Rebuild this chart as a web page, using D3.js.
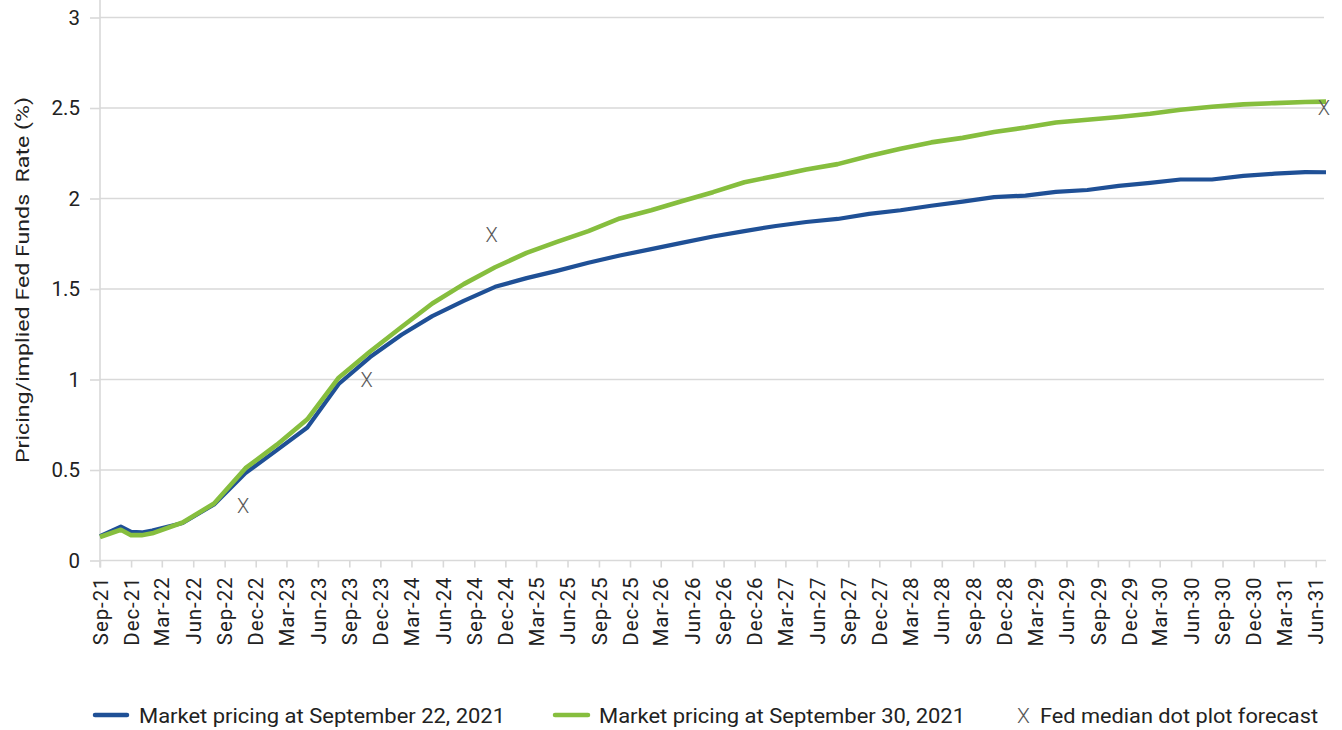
<!DOCTYPE html>
<html>
<head>
<meta charset="utf-8">
<script src="https://cdn.jsdelivr.net/npm/d3@7"></script>
<style>
  body { margin: 0; background: #fff; }
  svg { display: block; }
  text { font-family: Roboto, "Noto Sans", sans-serif; }
</style>
</head>
<body>
<svg id="chart" width="1342" height="730"></svg>
<script>
// ---- data ----
const dates = [
  "2021-09-01","2021-11-01","2021-12-01","2022-01-01","2022-02-01","2022-05-01","2022-08-01",
  "2022-11-01","2023-02-01","2023-05-01","2023-08-01","2023-11-01","2024-02-01","2024-05-01",
  "2024-08-01","2024-11-01","2025-02-01","2025-05-01","2025-08-01","2025-11-01","2026-02-01",
  "2026-05-01","2026-08-01","2026-11-01","2027-02-01","2027-05-01","2027-08-01","2027-11-01",
  "2028-02-01","2028-05-01","2028-08-01","2028-11-01","2029-02-01","2029-05-01","2029-08-01",
  "2029-11-01","2030-02-01","2030-05-01","2030-08-01","2030-11-01","2031-02-01","2031-05-01",
  "2031-07-01"
];
const pricingSep22 = [
  0.135,0.187,0.158,0.155,0.165,0.207,0.31,
  0.483,0.61,0.735,0.975,1.124,1.247,1.35,
  1.434,1.512,1.56,1.60,1.645,1.685,1.72,
  1.755,1.79,1.82,1.848,1.87,1.887,1.915,
  1.935,1.96,1.983,2.008,2.016,2.037,2.047,
  2.07,2.086,2.105,2.105,2.125,2.137,2.146,
  2.145
];
const pricingSep30 = [
  0.13,0.17,0.14,0.14,0.15,0.21,0.315,
  0.51,0.64,0.78,1.01,1.155,1.29,1.42,
  1.527,1.62,1.70,1.76,1.82,1.89,1.935,
  1.985,2.035,2.09,2.125,2.16,2.19,2.235,
  2.275,2.31,2.335,2.367,2.392,2.42,2.435,
  2.45,2.468,2.49,2.507,2.52,2.527,2.533,
  2.535
];
const dotDates = ["2022-10-25","2023-10-22","2024-10-22","2031-06-25"];
const dotValues = [0.3, 1.0, 1.8, 2.5];
const yTicks = [0, 0.5, 1, 1.5, 2, 2.5, 3];
const xDomain = ["2021-09-01", "2031-07-01"];
const seriesNames = ["Market pricing at September 22, 2021", "Market pricing at September 30, 2021"];
const dotName = "Fed median dot plot forecast";
const yTitle = "Pricing/implied Fed Funds  Rate (%)";

// ---- setup ----
const parse = d3.timeParse("%Y-%m-%d");
const fmt = d3.timeFormat("%b-%y");
const svg = d3.select("#chart");
const BLUE = "#1f5096", GREEN = "#86be3e", GRID = "#d9d9d9", TXT = "#222222", XCOL = "#595959";

const pLeft = 100, pRight = 1326, pTop = 17.5, pBottom = 560.5;
const x = d3.scaleTime().domain(xDomain.map(parse)).range([pLeft, pRight]);
const y = d3.scaleLinear().domain([0, 3]).range([pBottom, pTop]);

// gridlines
svg.append("g").selectAll("line").data(yTicks.filter(v => v > 0)).join("line")
  .attr("x1", pLeft).attr("x2", pRight - 2)
  .attr("y1", d => y(d)).attr("y2", d => y(d))
  .attr("stroke", GRID).attr("stroke-width", 1.6);

// y axis
const yAxis = svg.append("g").attr("transform", `translate(${pLeft},0)`)
  .call(d3.axisLeft(y).tickValues(yTicks).tickSize(10).tickPadding(10).tickFormat(d3.format("")));
yAxis.select(".domain").remove();
yAxis.selectAll(".tick line").attr("stroke", GRID).attr("stroke-width", 1.6);
yAxis.selectAll(".tick text").attr("font-size", 20.5).attr("fill", TXT)
  .style("font-family", "Roboto, sans-serif");
svg.append("line").attr("x1", pLeft).attr("x2", pLeft).attr("y1", 0).attr("y2", pBottom + 7)
  .attr("stroke", GRID).attr("stroke-width", 1.6);

// x axis
const xTickVals = d3.timeMonth.range(parse(xDomain[0]), parse(xDomain[1]), 3);
const xAxis = svg.append("g").attr("transform", `translate(0,${pBottom})`)
  .call(d3.axisBottom(x).tickValues(xTickVals).tickSize(7).tickFormat(fmt));
xAxis.select(".domain").attr("stroke", GRID).attr("stroke-width", 1.6)
  .attr("d", `M${pLeft},0H${pRight}`);
xAxis.selectAll(".tick line").attr("stroke", GRID).attr("stroke-width", 1.6);
xAxis.selectAll(".tick text")
  .attr("font-size", 20.5).attr("fill", TXT)
  .style("font-family", "Roboto, sans-serif")
  .style("letter-spacing", "0.9px")
  .attr("text-anchor", "end")
  .attr("transform", "translate(0,16) rotate(-90)")
  .attr("x", 0).attr("y", 0).attr("dy", "0.35em");

// y title
svg.append("text")
  .attr("transform", `translate(29,${(97 + 463) / 2}) rotate(-90)`)
  .attr("text-anchor", "middle")
  .attr("font-size", 19).attr("fill", TXT)
  .attr("xml:space", "preserve").style("white-space", "pre")
  .text(yTitle)
  .each(function () {
    const w = this.getComputedTextLength();
    if (Math.abs(w - 366) > 2) { d3.select(this).attr("textLength", 366).attr("lengthAdjust", "spacingAndGlyphs"); }
  });

// lines
const series = [
  { values: pricingSep22, color: BLUE, width: 4.2 },
  { values: pricingSep30, color: GREEN, width: 4.6 }
];
const line = d3.line().x(d => x(d.date)).y(d => y(d.v));
series.forEach(s => {
  const pts = dates.map((dt, i) => ({ date: parse(dt), v: s.values[i] }));
  svg.append("path").datum(pts)
    .attr("d", line).attr("fill", "none")
    .attr("stroke", s.color).attr("stroke-width", s.width)
    .attr("stroke-linejoin", "round");
});

// dot plot markers
svg.append("g").selectAll("text").data(dotDates.map((d, i) => ({ date: parse(d), v: dotValues[i] }))).join("text")
  .attr("x", d => x(d.date)).attr("y", d => y(d.v))
  .attr("dy", "0.35em").attr("text-anchor", "middle")
  .attr("font-size", 20).attr("fill", XCOL)
  .style("font-weight", 300)
  .text("X");

// legend
const legend = svg.append("g");
const fitText = (sel, w) => sel.each(function () {
  const cw = this.getComputedTextLength();
  if (Math.abs(cw - w) > 2) d3.select(this).attr("textLength", w).attr("lengthAdjust", "spacingAndGlyphs");
});
const legY = 723;
[[93, 129, 139, BLUE, seriesNames[0]], [553, 590, 599, GREEN, seriesNames[1]]].forEach(([a, b, tx, col, name]) => {
  legend.append("line").attr("x1", a + 2).attr("x2", b - 2).attr("y1", 715).attr("y2", 715)
    .attr("stroke", col).attr("stroke-width", 4.5).attr("stroke-linecap", "round");
  legend.append("text").attr("x", tx).attr("y", legY).attr("font-size", 21).attr("fill", TXT)
    .text(name).call(fitText, 366);
});
legend.append("text").attr("x", 1023.5).attr("y", legY).attr("text-anchor", "middle")
  .attr("font-size", 21).attr("fill", XCOL).style("font-weight", 300).text("X");
legend.append("text").attr("x", 1040).attr("y", legY).attr("font-size", 21).attr("fill", TXT)
  .text(dotName).call(fitText, 278);
</script>
</body>
</html>
